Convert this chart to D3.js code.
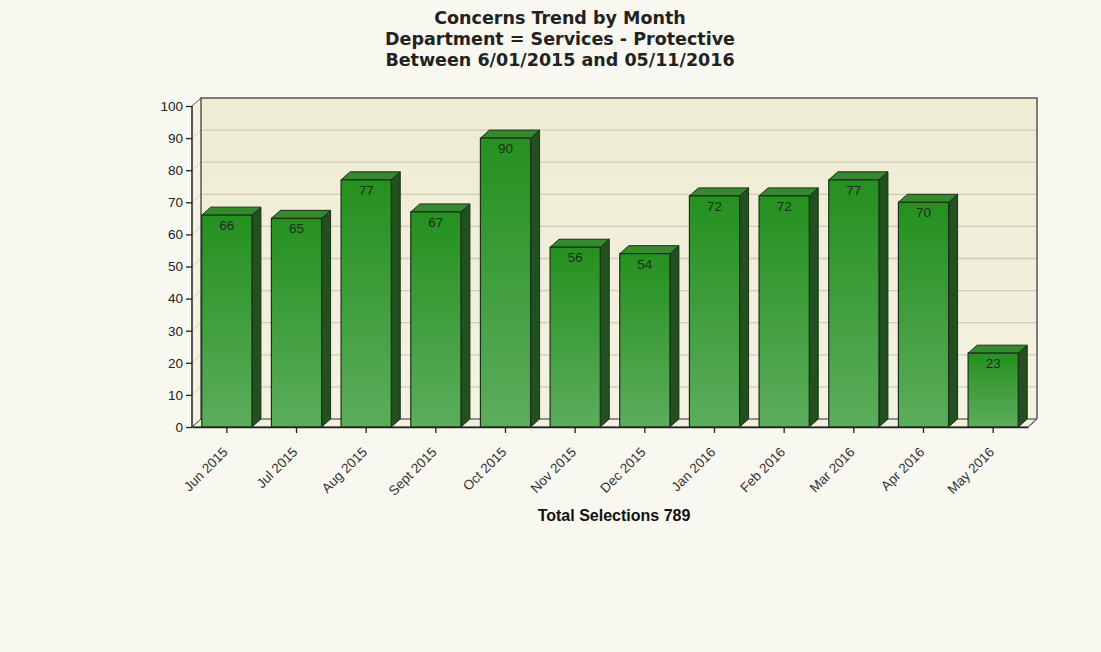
<!DOCTYPE html>
<html><head><meta charset="utf-8">
<script src="https://cdn.jsdelivr.net/npm/d3@7"></script>
<style>
body{margin:0;background:#f9f8f0;}
svg{display:block;}
</style></head>
<body>
<script>
const months = ["Jun 2015","Jul 2015","Aug 2015","Sept 2015","Oct 2015","Nov 2015","Dec 2015","Jan 2016","Feb 2016","Mar 2016","Apr 2016","May 2016"];
const counts = [66,65,77,67,90,56,54,72,72,77,70,23];
const yTicks = [0,10,20,30,40,50,60,70,80,90,100];
const titleLines = ["Concerns Trend by Month","Department = Services - Protective","Between 6/01/2015 and 05/11/2016"];
const footer = "Total Selections 789";

(function(){
const W=1101,H=652;
const svg=d3.select("body").append("svg").attr("width",W).attr("height",H);
svg.append("rect").attr("width",W).attr("height",H).attr("fill","#f9f8f0");

const pL=192,pR=1028,pT=106,pB=427;
const dx=9,dy=-8;
const x=d3.scaleBand().domain(months).range([pL,pR]).paddingInner(0.28).paddingOuter(0.14);
const y=d3.scaleLinear().domain([0,100]).range([pB,pT]);

const defs=svg.append("defs");
const wg=defs.append("linearGradient").attr("id","wall").attr("x1",0).attr("x2",0).attr("y1",0).attr("y2",1);
wg.append("stop").attr("offset",0).attr("stop-color","#eeecd2");
wg.append("stop").attr("offset",1).attr("stop-color","#f4f2e2");
const bg=defs.append("linearGradient").attr("id","bar").attr("x1",0).attr("x2",0).attr("y1",0).attr("y2",1);
bg.append("stop").attr("offset",0).attr("stop-color","#25901f");
bg.append("stop").attr("offset",1).attr("stop-color","#5cad5c");

svg.append("rect").attr("x",pL+dx).attr("y",pT+dy).attr("width",pR-pL).attr("height",pB-pT)
  .attr("fill","url(#wall)");
svg.append("path").attr("d",`M${pL},${pT}L${pL+dx},${pT+dy}L${pL+dx},${pB+dy}L${pL},${pB}Z`).attr("fill","#f3f1e1");
svg.append("path").attr("d",`M${pL},${pB}L${pL+dx},${pB+dy}L${pR+dx},${pB+dy}L${pR},${pB}Z`).attr("fill","#f1efdd").attr("stroke","#333").attr("stroke-width",1);
yTicks.filter(t=>t>0&&t<100).forEach(t=>{
  svg.append("line").attr("x1",pL+dx).attr("x2",pR+dx).attr("y1",y(t)+dy).attr("y2",y(t)+dy).attr("stroke","#cfccb6").attr("stroke-width",1.3);
  svg.append("line").attr("x1",pL).attr("x2",pL+dx).attr("y1",y(t)).attr("y2",y(t)+dy).attr("stroke","#d8d5c0").attr("stroke-width",1);
});
svg.append("path").attr("d",`M${pL+dx},${pB+dy}V${pT+dy}H${pR+dx}V${pB+dy}`).attr("fill","none").attr("stroke","#555").attr("stroke-width",1.5);
svg.append("line").attr("x1",pL).attr("x2",pL+dx).attr("y1",pT).attr("y2",pT+dy).attr("stroke","#555");
svg.append("line").attr("x1",pR).attr("x2",pR+dx).attr("y1",pB).attr("y2",pB+dy).attr("stroke","#555");

const g=svg.append("g");
const bw=x.bandwidth();
months.forEach((m,i)=>{
  const v=counts[i];
  const x0=x(m), y0=y(v);
  g.append("path").attr("d",`M${x0+bw},${y0}L${x0+bw+dx},${y0+dy}L${x0+bw+dx},${pB+dy}L${x0+bw},${pB}Z`)
    .attr("fill","#22501f").attr("stroke","#1a301a").attr("stroke-width",1);
  g.append("path").attr("d",`M${x0},${y0}L${x0+dx},${y0+dy}L${x0+bw+dx},${y0+dy}L${x0+bw},${y0}Z`)
    .attr("fill","#358a30").attr("stroke","#1a301a").attr("stroke-width",1);
  g.append("rect").attr("x",x0).attr("y",y0).attr("width",bw).attr("height",pB-y0)
    .attr("fill","url(#bar)").attr("stroke","#1a301a").attr("stroke-width",1.2);
  g.append("text").attr("x",x0+bw/2).attr("y",y0+15).attr("text-anchor","middle")
    .attr("font-family","Liberation Sans, Arial, sans-serif").attr("font-size",13.5).attr("fill","#1e2e1e").text(v);
});

const ya=svg.append("g").attr("transform",`translate(${pL},0)`)
  .call(d3.axisLeft(y).tickValues(yTicks).tickSize(6).tickPadding(3));
ya.select(".domain").attr("stroke","#222").attr("stroke-width",1.5).attr("d",`M0,${pB}V${pT}`);
ya.selectAll(".tick line").attr("stroke","#222").attr("stroke-width",1.3);
ya.selectAll(".tick text").attr("font-family","Liberation Sans, Arial, sans-serif").attr("font-size",13.5).attr("fill","#222");

const xa=svg.append("g").attr("transform",`translate(0,${pB})`)
  .call(d3.axisBottom(x).tickSize(6).tickSizeOuter(0));
xa.select(".domain").attr("stroke","#222").attr("stroke-width",1.5);
xa.selectAll(".tick line").attr("stroke","#222").attr("stroke-width",1.3);
xa.selectAll(".tick text").attr("font-family","Liberation Sans, Arial, sans-serif").attr("font-size",13.5).attr("fill","#333")
  .attr("text-anchor","end").attr("y",0).attr("dy","0.35em").attr("transform","translate(-1.5,22.5) rotate(-45)");

titleLines.forEach((t,i)=>{
  svg.append("text").attr("x",560).attr("y",24+i*21).attr("text-anchor","middle")
    .attr("font-family","DejaVu Sans, Verdana, sans-serif").attr("font-weight","bold").attr("font-size",17.5).attr("fill","#222").text(t);
});
svg.append("text").attr("x",614).attr("y",521).attr("text-anchor","middle")
  .attr("font-family","Liberation Sans, Arial, sans-serif").attr("font-weight","bold").attr("font-size",16).attr("fill","#111").text(footer);
})();
</script>
</body></html>
